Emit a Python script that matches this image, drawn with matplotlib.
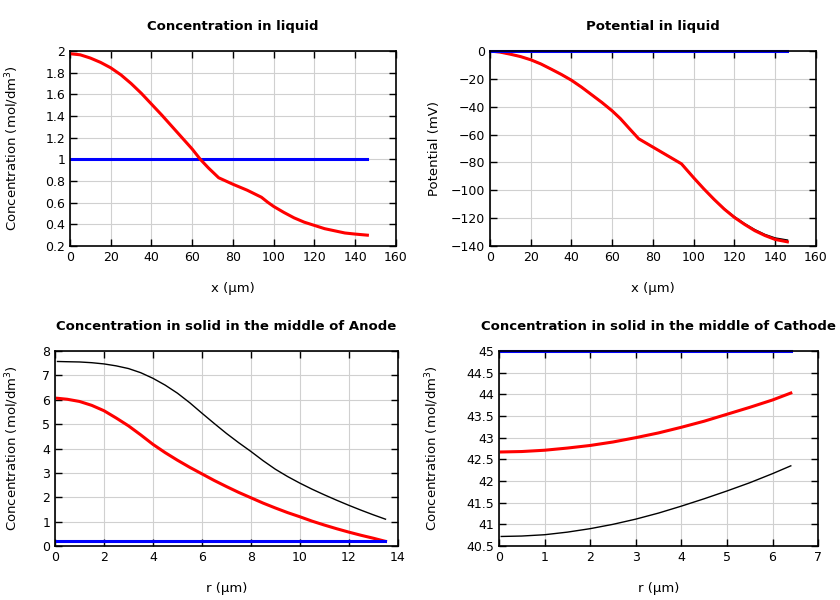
import matplotlib
matplotlib.use("Agg")
import matplotlib.pyplot as plt

# Concentration in liquid
x_liq = [0, 5, 10, 15, 20, 25, 30, 35, 40, 45, 50, 55, 60, 64, 68, 73, 80, 87, 94, 97,
         100, 105, 110, 115, 120, 125, 130, 135, 140, 146]
c_liq_red = [1.975, 1.965, 1.935, 1.895, 1.845, 1.78, 1.70, 1.61, 1.51, 1.41, 1.305, 1.20, 1.095, 1.00, 0.92,
             0.83, 0.77, 0.715, 0.65, 0.605, 0.565, 0.51, 0.46, 0.42, 0.39, 0.36, 0.34, 0.32, 0.31, 0.30]
c_liq_black = [1.0] * len(x_liq)
c_liq_blue = [1.0] * len(x_liq)

# Potential in liquid
p_liq_red = [0, -0.8, -2.3, -4, -6.3, -9.3, -13, -16.8, -21, -26, -31.5, -37, -43, -48.5, -55,
             -63, -69, -75, -81, -86, -91, -99, -106.5, -113.5, -119.5, -124.5, -129, -132.5, -135.3, -137]
p_liq_black = [0, -0.8, -2.3, -4, -6.3, -9.3, -13, -16.8, -21, -26, -31.5, -37, -43, -48.5, -55,
               -63, -69, -75, -81, -86, -91, -99, -106.5, -113.3, -119, -124, -128.3, -131.8, -134.3, -135.8]
p_liq_blue = [0.0] * len(x_liq)

# Solid, anode
r_an = [0.1, 0.5, 1, 1.5, 2, 2.5, 3, 3.5, 4, 4.5, 5, 5.5, 6, 6.5, 7, 7.5, 8, 8.5, 9, 9.5,
        10, 10.5, 11, 11.5, 12, 12.5, 13, 13.5]
c_an_black = [7.57, 7.56, 7.55, 7.52, 7.47, 7.39, 7.28, 7.11, 6.88, 6.60, 6.27, 5.88, 5.45, 5.03, 4.62,
              4.24, 3.88, 3.50, 3.15, 2.85, 2.58, 2.33, 2.10, 1.88, 1.67, 1.47, 1.28, 1.10]
c_an_red = [6.06, 6.02, 5.93, 5.77, 5.55, 5.25, 4.93, 4.56, 4.17, 3.83, 3.52, 3.23, 2.96, 2.69, 2.44,
            2.20, 1.98, 1.76, 1.56, 1.37, 1.20, 1.02, 0.86, 0.71, 0.57, 0.44, 0.32, 0.19]
c_an_blue = [0.2] * len(r_an)

# Solid, cathode
r_ca = [0.05, 0.5, 1, 1.5, 2, 2.5, 3, 3.5, 4, 4.5, 5, 5.5, 6, 6.4]
c_ca_red = [42.67, 42.68, 42.71, 42.76, 42.82, 42.90, 43.00, 43.11, 43.24, 43.38, 43.54, 43.70, 43.87, 44.03]
c_ca_black = [40.72, 40.73, 40.76, 40.82, 40.90, 41.00, 41.12, 41.26, 41.42, 41.59, 41.77, 41.96, 42.17, 42.35]
c_ca_blue = [45.0] * len(r_ca)

conc_label = "Concentration (mol/dm$^3$)"


def style_axes(ax, title, xlabel, ylabel, xlim, ylim, xticks, yticks, ylabel_x, yticklabels=None):
    ax.set_title(title, fontsize=9.5, fontweight="bold", pad=15)
    ax.set_xlabel(xlabel, fontsize=9.5, labelpad=13)
    ax.set_ylabel(ylabel, fontsize=9.5)
    ax.yaxis.set_label_coords(ylabel_x, 0.5)
    ax.set_xlim(xlim)
    ax.set_ylim(ylim)
    ax.set_xticks(xticks)
    ax.set_yticks(yticks)
    if yticklabels is not None:
        ax.set_yticklabels(yticklabels)
    ax.tick_params(direction="in", top=True, right=True, labelsize=9, length=5, width=1)
    ax.grid(True, color="#d0d0d0", linewidth=0.8)
    ax.set_axisbelow(True)
    for s in ax.spines.values():
        s.set_linewidth(1.2)


fig = plt.figure(figsize=(8.4, 6), dpi=100)

ax1 = fig.add_axes([0.0833, 0.59, 0.388, 0.325])
ax1.plot(x_liq, c_liq_black, color="black", lw=1)
ax1.plot(x_liq, c_liq_blue, color="#0000ff", lw=2.2)
ax1.plot(x_liq, c_liq_red, color="#ff0000", lw=2.2)
style_axes(ax1, "Concentration in liquid", "x (µm)", conc_label, (0, 160), (0.2, 2),
           range(0, 161, 20), [0.2, 0.4, 0.6, 0.8, 1, 1.2, 1.4, 1.6, 1.8, 2], -0.150,
           ["0.2", "0.4", "0.6", "0.8", "1", "1.2", "1.4", "1.6", "1.8", "2"])

ax2 = fig.add_axes([0.5833, 0.59, 0.388, 0.325])
ax2.plot(x_liq, p_liq_black, color="black", lw=1.2)
ax2.plot(x_liq, p_liq_red, color="#ff0000", lw=2.2)
ax2.plot(x_liq, p_liq_blue, color="#0000ff", lw=2.2, clip_on=False)
style_axes(ax2, "Potential in liquid", "x (µm)", "Potential (mV)", (0, 160), (-140, 0),
           range(0, 161, 20), range(-140, 1, 20), -0.150)

ax3 = fig.add_axes([0.0655, 0.09, 0.408, 0.325])
ax3.plot(r_an, c_an_black, color="black", lw=1)
ax3.plot(r_an, c_an_red, color="#ff0000", lw=2.2)
ax3.plot(r_an, c_an_blue, color="#0000ff", lw=2.2)
style_axes(ax3, "Concentration in solid in the middle of Anode", "r (µm)", conc_label,
           (0, 14), (0, 8), range(0, 15, 2), range(0, 9), -0.099)

ax4 = fig.add_axes([0.594, 0.09, 0.380, 0.325])
ax4.plot(r_ca, c_ca_black, color="black", lw=1)
ax4.plot(r_ca, c_ca_red, color="#ff0000", lw=2.2)
ax4.plot(r_ca, c_ca_blue, color="#0000ff", lw=2.2, clip_on=False)
style_axes(ax4, "Concentration in solid in the middle of Cathode", "r (µm)", conc_label,
           (0, 7), (40.5, 45), range(0, 8),
           [40.5, 41, 41.5, 42, 42.5, 43, 43.5, 44, 44.5, 45], -0.182,
           ["40.5", "41", "41.5", "42", "42.5", "43", "43.5", "44", "44.5", "45"])

fig.savefig("out.png", dpi=100)
